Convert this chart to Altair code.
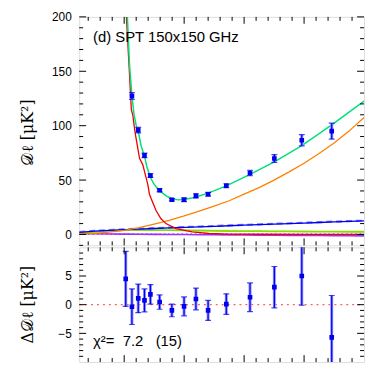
import altair as alt
import pandas as pd

# ---------------- data ----------------
# band-power multipoles
ell_pts = [2051, 2258, 2469, 2677, 2875, 3182, 3591, 3997, 4393, 4799, 5406, 6197, 7009, 7923, 8922]
dl_pts = [236.0, 127.3, 95.9, 72.7, 54.1, 40.6, 31.9, 31.9, 35.5, 37.0, 44.8, 56.5, 69.8, 86.6, 95.0]
err_pts = [4.8, 3.1, 2.5, 2.0, 1.7, 1.25, 1.1, 1.65, 1.9, 1.75, 1.8, 2.5, 3.6, 5.1, 7.3]
resid_pts = [4.5, -0.35, 1.1, 0.75, 1.8, 0.46, -1.0, -0.3, 1.0, -1.0, 0.1, 1.3, 3.06, 5.0, -5.7]

# total model (green)
ell_tot = [1900, 2000, 2106, 2180, 2258, 2330, 2403, 2469, 2568, 2677, 2760, 2875, 3000, 3182, 3400,
           3591, 3800, 3997, 4200, 4393, 4799, 5406, 6197, 7009, 7923, 8922, 10000]
dl_tot = [520, 330, 200, 155, 127.6, 110, 100, 94.8, 81, 72, 62, 52.3, 46, 40.1, 35.5,
          32.9, 31.8, 32.2, 33.2, 34.5, 38, 44.7, 55.2, 66.7, 81.6, 100.7, 122.5]

# primary CMB (red)
ell_cmb = [1800, 2000, 2073, 2159, 2215, 2238, 2291, 2347, 2380, 2456, 2512, 2622, 2677, 2787, 2842,
           2952, 3063, 3228, 3393, 3723, 4271, 4822, 5500, 6500, 8000, 10000]
dl_cmb = [520, 290, 200, 157, 127, 115, 109, 97, 91, 79, 70, 64, 58, 46, 37,
          29.4, 22, 14.4, 10, 5.4, 2.3, 0.9, 0.4, 0.2, 0.1, 0.05]

# smooth foreground components, sampled every 500 in ell
ell_fg = [500, 1000, 1500, 2000, 2500, 3000, 3500, 4000, 4500, 5000,
          5500, 6000, 6500, 7000, 7500, 8000, 8500, 9000, 9500, 10000]
dl_poisson = [0.5, 1.1, 2.2, 3.8, 6.2, 9.5, 13.0, 17.0, 21.5, 26.0,
              31.0, 37.0, 43.0, 50.0, 57.5, 65.5, 74.5, 84.0, 95.0, 107.5]
dl_clust = [2.0, 3.0, 3.8, 4.5, 5.0, 5.5, 6.0, 6.5, 7.0, 7.5,
            8.0, 8.5, 9.0, 9.5, 10.0, 10.5, 11.0, 11.5, 12.0, 12.4]
dl_clust2 = [2.3, 3.3, 4.1, 4.8, 5.3, 5.8, 6.3, 6.8, 7.3, 7.8,
             8.3, 8.8, 9.3, 9.8, 10.3, 10.8, 11.3, 11.8, 12.3, 12.7]
dl_tsz = [1.0, 2.2, 3.2, 3.8, 4.0, 4.0, 3.9, 3.7, 3.5, 3.3,
          3.1, 3.0, 2.9, 2.8, 2.7, 2.6, 2.5, 2.5, 2.4, 2.4]
dl_ksz = [1.3, 2.5, 3.4, 4.0, 4.2, 4.2, 4.1, 4.0, 3.8, 3.6,
          3.5, 3.4, 3.3, 3.2, 3.1, 3.0, 3.0, 2.9, 2.9, 2.9]
dl_corr = [0.8, 0.6, 0.4, 0.3, 0.2, 0.1, 0.0, -0.1, -0.2, -0.3,
           -0.4, -0.5, -0.6, -0.7, -0.8, -0.9, -1.0, -1.1, -1.2, -1.3]
dl_radio = [0.3, 0.3, 0.3, 0.3, 0.3, 0.3, 0.3, 0.3, 0.3, 0.3,
            0.3, 0.3, 0.3, 0.3, 0.3, 0.3, 0.3, 0.3, 0.3, 0.3]

# axis tick values
x_major = [2000, 4000, 6000, 8000]
x_minor = [v for v in range(800, 10000, 400) if v not in x_major]
top_major = [0, 50, 100, 150, 200]
top_minor = [v for v in range(-10, 200, 10) if v not in top_major]
bot_major = [-5, 0, 5]
bot_minor = [v for v in range(-9, 10) if v not in bot_major]

panel_label = "(d) SPT 150x150 GHz"
chi_label = "χ²=\u00a0\u00a07.2\u00a0\u00a0\u00a0(15)"
top_title = "𝒟ℓ [μK²]"
bot_title = "Δ𝒟ℓ [μK²]"

# ---------------- layout/style ----------------
W = 288
H1 = 231
H2 = 116
FONT = "Liberation Sans"
MAJ = 7
MIN = 4

xscale = alt.Scale(domain=[500, 10000], nice=False, zero=False)
yscale_top = alt.Scale(domain=[-10, 200], nice=False, zero=False)
yscale_bot = alt.Scale(domain=[-10, 10], nice=False, zero=False)

def yaxis(values):
    return alt.Axis(values=values, ticks=False, domain=False, grid=False,
                    labelPadding=8, labelFont=FONT, labelFontSize=12, labelColor="black",
                    title=None)

ax_top = yaxis(top_major)
ax_bot = yaxis(bot_major)

X = lambda f: alt.X(f"{f}:Q", scale=xscale, axis=None)


def line(ell, vals, color, width=1.3, dash=None, ysc=yscale_top, ax=ax_top):
    df = pd.DataFrame({"ell": ell, "v": vals})
    kw = dict(color=color, strokeWidth=width, clip=True)
    if dash:
        kw["strokeDash"] = dash
    return alt.Chart(df).mark_line(**kw).encode(
        x=X("ell"), y=alt.Y("v:Q", scale=ysc, axis=ax))


def ticks_layers(ysc, ax, ymaj, ymin, h):
    layers = []
    for vals, ln in ((x_major, MAJ), (x_minor, MIN)):
        df = pd.DataFrame({"t": vals})
        layers.append(alt.Chart(df).mark_rule(color="black", strokeWidth=1).encode(
            x=X("t"), y=alt.value(h), y2=alt.value(h - ln)))
        layers.append(alt.Chart(df).mark_rule(color="black", strokeWidth=1).encode(
            x=X("t"), y=alt.value(0), y2=alt.value(ln)))
    for vals, ln in ((ymaj, MAJ), (ymin, MIN)):
        df = pd.DataFrame({"t": vals})
        layers.append(alt.Chart(df).mark_rule(color="black", strokeWidth=1).encode(
            y=alt.Y("t:Q", scale=ysc, axis=ax), x=alt.value(0), x2=alt.value(ln)))
        layers.append(alt.Chart(df).mark_rule(color="black", strokeWidth=1).encode(
            y=alt.Y("t:Q", scale=ysc, axis=ax), x=alt.value(W - ln), x2=alt.value(W)))
    return layers


def points(vals, ysc, ax):
    df = pd.DataFrame({"ell": ell_pts, "v": vals, "e": err_pts})
    df["lo"] = df["v"] - df["e"]
    df["hi"] = df["v"] + df["e"]
    base = alt.Chart(df)
    wide = base.mark_rule(color="#8c8cff", strokeWidth=3, clip=True).encode(
        x=X("ell"), y=alt.Y("lo:Q", scale=ysc, axis=ax), y2="hi:Q")
    thin = base.mark_rule(color="#0000ee", strokeWidth=1.2, clip=True).encode(
        x=X("ell"), y=alt.Y("lo:Q", scale=ysc, axis=ax), y2="hi:Q")
    cap_lo = base.mark_tick(color="#0000ee", thickness=1.2, size=6, orient="horizontal", clip=True).encode(
        x=X("ell"), y=alt.Y("lo:Q", scale=ysc, axis=ax))
    cap_hi = base.mark_tick(color="#0000ee", thickness=1.2, size=6, orient="horizontal", clip=True).encode(
        x=X("ell"), y=alt.Y("hi:Q", scale=ysc, axis=ax))
    pts = base.mark_square(color="#0000ee", size=22, opacity=1, clip=True).encode(
        x=X("ell"), y=alt.Y("v:Q", scale=ysc, axis=ax))
    return [wide, thin, cap_lo, cap_hi, pts]


def text(s, x, y, size, **kw):
    return alt.Chart(pd.DataFrame({"s": [s]})).mark_text(
        font=kw.pop("font", FONT), fontSize=size, color="black", **kw).encode(
        text="s:N", x=alt.value(x), y=alt.value(y))


# ---------------- top panel ----------------
top_layers = [
    line(ell_fg, dl_radio, "#ff44ff", 1.6, [1.5, 3]),
    line(ell_fg, dl_corr, "#9b30ff", 1.6),
    line(ell_fg, dl_ksz, "#c4ee80", 1.6),
    line(ell_fg, dl_tsz, "#80e000", 1.6),
    line(ell_fg, dl_clust2, "#7a7aff", 2.2, [6, 4]),
    line(ell_fg, dl_clust, "#0000ee", 1.3),
    line(ell_fg, dl_poisson, "#ff8000", 1.3),
    line(ell_cmb, dl_cmb, "#ee0000", 1.3),
    line(ell_tot, dl_tot, "#00e07a", 1.5),
]
top_layers += points(dl_pts, yscale_top, ax_top)
top_layers += ticks_layers(yscale_top, ax_top, top_major, top_minor, H1)
top_layers.append(text(panel_label, 14, 20, 15, align="left", baseline="middle"))
top_layers.append(text(top_title, -52, 117, 16, align="center", baseline="middle",
                       angle=270, font="DejaVu Serif"))
top = alt.layer(*top_layers).properties(width=W, height=H1)

# ---------------- bottom panel ----------------
zero_df = pd.DataFrame({"ell": [500, 10000], "v": [0, 0]})
bot_layers = [
    alt.Chart(zero_df).mark_line(color="#ff6060", strokeWidth=1.3, strokeDash=[2, 4]).encode(
        x=X("ell"), y=alt.Y("v:Q", scale=yscale_bot, axis=ax_bot)),
]
bot_layers += points(resid_pts, yscale_bot, ax_bot)
bot_layers += ticks_layers(yscale_bot, ax_bot, bot_major, bot_minor, H2)
bot_layers.append(text(chi_label, 14, 95, 15, align="left", baseline="middle"))
bot_layers.append(text(bot_title, -52, 58, 16, align="center", baseline="middle",
                       angle=270, font="DejaVu Serif"))
bot = alt.layer(*bot_layers).properties(width=W, height=H2)

chart = alt.vconcat(top, bot, spacing=0).properties(
    padding={"left": 11, "top": 0, "right": 0, "bottom": 0}
).configure_view(stroke="black", strokeWidth=1).configure(background="white")

chart.save("out.html", embed_options={"renderer": "svg", "actions": False})
